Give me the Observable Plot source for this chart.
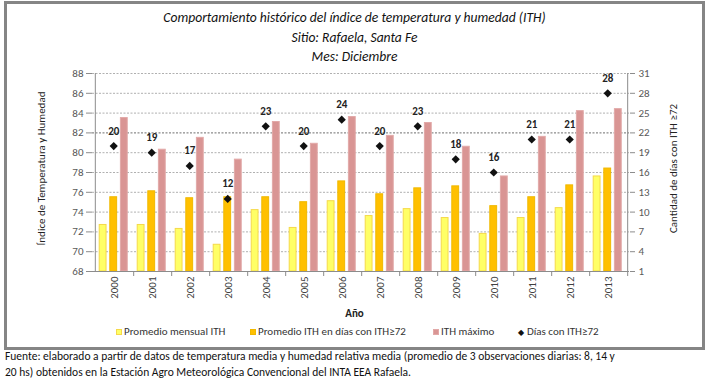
<!DOCTYPE html>
<html>
<head>
<meta charset="utf-8">
<script src="https://cdn.jsdelivr.net/npm/d3@7"></script>
<script src="https://cdn.jsdelivr.net/npm/@observablehq/plot@0.6"></script>
<style>
  html, body { margin: 0; padding: 0; background: #fff; }
  body { width: 709px; height: 384px; position: relative; overflow: hidden;
         font-family: Carlito, Calibri, Lato, "Open Sans", sans-serif; }
  #box { position: absolute; left: 4px; top: 1px; width: 695px; height: 343px;
         border: 3px solid #858585; }
  .title { position: absolute; left: 0; width: 709px; text-align: center;
           font-style: italic; font-size: 13.6px; color: #111; }
  #chart { position: absolute; left: 0; top: 60px; }
  #xlab { position: absolute; left: 0; width: 709px; top: 307px; text-align: center;
          font-weight: bold; font-size: 11px; color: #222; }
  .leg { position: absolute; top: 325px; font-size: 11px; color: #333; white-space: nowrap; }
  .sw { display: inline-block; width: 6px; height: 6px; margin-right: 2px; vertical-align: 0px; box-sizing: border-box; }
  .foot { position: absolute; left: 5px; font-size: 11.5px; color: #111; white-space: nowrap; }
</style>
</head>
<body>
<div id="box"></div>
<div class="title" style="top:9px">Comportamiento histórico del índice de temperatura y humedad (ITH)</div>
<div class="title" style="top:29px">Sitio: Rafaela, Santa Fe</div>
<div class="title" style="top:48px">Mes: Diciembre</div>
<div id="chart"></div>
<div id="xlab">Año</div>
<div id="legend"></div>
<div class="foot" style="top:349px">Fuente: elaborado a partir de datos de temperatura media y humedad relativa media (promedio de 3 observaciones diarias: 8, 14 y</div>
<div class="foot" style="top:365px">20 hs) obtenidos en la Estación Agro Meteorológica Convencional del INTA EEA Rafaela.</div>
<script>
const years = ["2000","2001","2002","2003","2004","2005","2006","2007","2008","2009","2010","2011","2012","2013"];
const promMensual = [72.7,72.7,72.3,70.7,74.2,72.4,75.1,73.6,74.3,73.4,71.8,73.4,74.4,77.6];
const promDias    = [75.5,76.1,75.4,75.5,75.5,75.0,77.1,75.8,76.4,76.6,74.6,75.5,76.7,78.4];
const ithMax      = [83.5,80.3,81.5,79.3,83.1,80.9,83.6,81.7,83.0,80.6,77.6,81.6,84.2,84.4];
const dias        = [20,19,17,12,23,20,24,20,23,18,16,21,21,28];
const leftTicks  = [68,70,72,74,76,78,80,82,84,86,88];
const rightTicks = [1,4,7,10,13,16,19,22,25,28,31];
const seriesNames = ["Promedio mensual ITH","Promedio ITH en días con ITH≥72","ITH máximo","Días con ITH≥72"];
const colors = {fill: ["#FFFF66","#FFC000","#D99594"], stroke: ["#F5D94A","#F0B800","#E2A9A8"]};

// map right-axis (days) onto left-axis (ITH) domain
const L0 = 68, L1 = 88, R0 = 1, R1 = 31;
const toLeft = d => L0 + (d - R0) * (L1 - L0) / (R1 - R0);
const toRight = v => R0 + (v - L0) * (R1 - R0) / (L1 - L0);

const data = years.map((y, i) => ({year: y, avg: promMensual[i], avgDays: promDias[i], max: ithMax[i], days: dias[i]}));

const W = 709, H = 250, ML = 92, MR = 80, MT = 13, MB = 39;
const bw = (W - ML - MR) / years.length;
const barW = 7.2, step = 10.6, off0 = 4.2;
const inset = k => ({insetLeft: off0 + k * step, insetRight: bw - (off0 + k * step) - barW});

const fontFam = 'Carlito, Calibri, Lato, "Open Sans", sans-serif';

const chart = Plot.plot({
  width: W, height: H,
  marginLeft: ML, marginRight: MR, marginTop: MT, marginBottom: MB,
  style: {fontFamily: fontFam, fontSize: "11px", color: "#595959", background: "transparent", overflow: "visible"},
  x: {type: "band", domain: years, padding: 0},
  y: {domain: [L0, L1]},
  marks: [
    Plot.ruleY(leftTicks.filter(v => v > L0 && v !== 82), {stroke: "#b0b0b0", strokeDasharray: "2,1.5"}),
    Plot.ruleY([82], {stroke: "#6e6e6e", strokeDasharray: "2,1.5"}),
    Plot.barY(data, {x: "year", y1: L0, y2: "avg", fill: colors.fill[0], stroke: colors.stroke[0], strokeWidth: 1, ...inset(0)}),
    Plot.barY(data, {x: "year", y1: L0, y2: "avgDays", fill: colors.fill[1], stroke: colors.stroke[1], strokeWidth: 1, ...inset(1)}),
    Plot.barY(data, {x: "year", y1: L0, y2: "max", fill: colors.fill[2], stroke: colors.stroke[2], strokeWidth: 1, ...inset(2)}),
    Plot.ruleY([L0], {stroke: "#8c8c8c"}),
    Plot.ruleX([years[0]], {dx: -bw / 2, stroke: "#8c8c8c"}),
    Plot.ruleX([years[years.length - 1]], {dx: bw / 2, stroke: "#8c8c8c"}),
    Plot.dot(data, {x: "year", y: d => toLeft(d.days), symbol: "diamond2", r: 3.7, fill: "#111", stroke: "none", dx: off0 + step + barW / 2 - bw / 2}),
    Plot.text(data, {x: "year", y: d => toLeft(d.days), text: d => String(d.days), dy: -15, dx: off0 + step + barW / 2 - bw / 2, fontWeight: "bold", fill: "#222", fontSize: 11}),
    Plot.axisY(leftTicks, {anchor: "left", tickSize: 6, tickPadding: 3, stroke: "#8c8c8c", fill: "#595959", label: null}),
    Plot.axisY(leftTicks, {anchor: "right", tickSize: 5, tickPadding: 4, stroke: "#8c8c8c", fill: "#595959", label: null, tickFormat: v => String(toRight(v))}),
    Plot.axisX(years, {anchor: "bottom", tickSize: 5, dx: bw / 2, tickFormat: () => "", stroke: "#8c8c8c", label: null}),
    Plot.axisX(years, {anchor: "bottom", tickSize: 0, tickPadding: 5, tickRotate: -90, fill: "#404040", label: null}),
    Plot.text(["Índice de Temperatura y Humedad"], {frameAnchor: "left", textAnchor: "middle", dx: -51, dy: -4, rotate: -90, fill: "#222", fontSize: 11}),
    Plot.text(["Cantidad de días con ITH ≥72"], {frameAnchor: "right", textAnchor: "middle", dx: 44, dy: -4, rotate: -90, fill: "#222", fontSize: 11})
  ]
});
document.getElementById("chart").appendChild(chart);

// legend
const legPos = [116, 250, 433, 518];
const leg = document.getElementById("legend");
seriesNames.forEach((name, i) => {
  const d = document.createElement("div");
  d.className = "leg";
  d.style.left = legPos[i] + "px";
  if (i < 3) {
    d.innerHTML = `<span class="sw" style="background:${colors.fill[i]};border:1px solid ${colors.stroke[i]}"></span>${name}`;
  } else {
    d.innerHTML = `<span style="font-size:8px;color:#111;margin-right:3px">◆</span>${name}`;
  }
  leg.appendChild(d);
});
</script>
</body>
</html>
